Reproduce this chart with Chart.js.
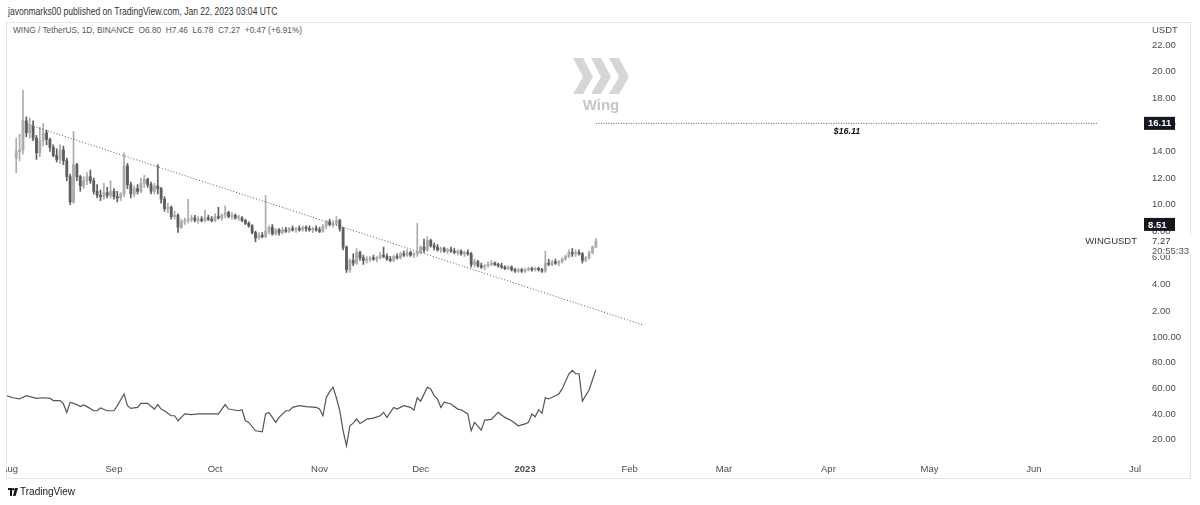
<!DOCTYPE html>
<html>
<head>
<meta charset="utf-8">
<title>WINGUSDT</title>
<script src="https://cdn.jsdelivr.net/npm/chart.js@4.4.1/dist/chart.umd.min.js"></script>
<style>
  html, body { margin: 0; padding: 0; background: #fff; }
  body { width: 1200px; height: 505px; position: relative; overflow: hidden;
         font-family: "Liberation Sans", Arial, sans-serif; }
  #frame { position: absolute; left: 6px; top: 22px; width: 1185px; height: 457px;
           border: 1px solid #e4e4e4; box-sizing: border-box; }
  #pub { position: absolute; left: 8px; top: 5px; font-size: 10px; line-height: 13px; color: #333;
         white-space: pre; transform: scaleX(0.855); transform-origin: left center; }
  #legend { position: absolute; left: 13px; top: 24px; font-size: 9.5px; line-height: 12px; color: #555;
            white-space: pre; transform: scaleX(0.875); transform-origin: left center; }
  canvas { position: absolute; left: 0; }
  #price { top: 22px; }
  #rsi { top: 330px; }
  #mask { position: absolute; left: 0; top: 459px; width: 6px; height: 20px; background: #fff; }
  #footer { position: absolute; left: 8px; top: 486px; font-size: 10px; line-height: 12px; color: #131722; }
  #footer svg { vertical-align: -1px; margin-right: 2px; }
</style>
</head>
<body>
<div id="frame"></div>
<div id="pub">javonmarks00 published on TradingView.com, Jan 22, 2023 03:04 UTC</div>
<div id="legend">WING / TetherUS, 1D, BINANCE  O6.80  H7.46  L6.78  C7.27  +0.47 (+6.91%)</div>
<canvas id="price" width="1200" height="306"></canvas>
<canvas id="rsi" width="1200" height="150"></canvas>
<div id="mask"></div>
<div id="footer"><svg width="10" height="8" viewBox="0 0 10 8"><path d="M0 0h4v8H2V2H0z" fill="#131722"/><circle cx="5.2" cy="1.3" r="1.2" fill="#131722"/><path d="M7 0h3L7.5 8H5z" fill="#131722"/></svg>TradingView</div>

<script>
// days counted from 1 Aug 2022; daily candles run 3 Aug 2022 .. 22 Jan 2023
const firstCandleDay = 2;

const opens = [
  13.5,14.0,14.1,16.3,15.4,15.9,15.0,13.9,14.8,15.4,
  14.9,14.3,13.7,13.4,14.1,13.3,12.1,10.2,13.0,12.1,
  11.4,11.8,12.1,11.8,11.0,10.7,10.6,10.9,10.7,11.0,
  10.6,10.5,10.8,12.9,11.5,10.8,11.2,11.0,11.6,11.9,
  11.5,11.0,11.4,11.2,10.4,9.7,9.8,9.1,9.2,8.3,
  8.7,8.8,8.9,9.0,8.8,8.9,8.8,9.0,8.9,8.8,
  9.1,9.0,9.2,9.4,9.1,9.2,9.0,9.0,8.8,8.6,
  8.4,7.9,7.5,7.7,7.6,8.0,8.3,7.8,8.1,7.9,
  8.1,8.0,8.2,8.1,8.2,8.1,8.3,8.2,8.1,8.2,
  8.1,8.0,8.4,8.7,8.5,8.6,8.8,8.2,6.8,5.1,
  5.8,5.6,6.4,6.0,5.8,5.9,6.0,5.9,6.0,6.2,
  6.1,5.9,5.8,6.1,6.0,6.3,6.2,6.4,6.2,6.3,
  6.4,6.8,6.6,7.3,6.9,6.8,6.6,6.7,6.5,6.6,
  6.5,6.4,6.5,6.3,6.4,6.3,5.5,5.7,5.4,5.3,
  5.4,5.5,5.6,5.5,5.4,5.3,5.2,5.3,5.1,5.0,
  5.1,5.0,5.1,5.2,5.1,5.2,5.1,5.0,5.6,5.5,
  5.7,5.6,5.7,5.9,6.1,6.4,6.3,6.4,6.3,5.8,
  6.0,6.4,6.80
];
const highs = [
  15.0,15.3,18.6,16.6,16.5,16.3,15.2,15.8,16.1,15.6,
  15.0,14.5,14.2,14.5,14.4,13.5,12.3,15.5,13.1,12.2,
  12.1,12.4,12.6,12.0,11.5,11.1,11.6,11.3,11.8,11.2,
  11.0,10.9,13.9,13.1,11.7,11.4,11.5,12.0,12.2,12.0,
  11.7,11.6,13.0,11.3,10.6,10.1,9.9,9.5,9.3,8.9,
  9.0,10.4,9.2,9.2,9.1,9.1,9.6,9.2,9.1,9.3,
  9.8,9.3,9.9,9.5,9.4,9.3,9.2,9.1,8.9,8.7,
  8.5,8.0,7.9,7.9,10.7,8.4,8.5,8.2,8.2,8.3,
  8.3,8.3,8.4,8.3,8.4,8.4,8.4,8.4,8.3,8.4,
  8.3,8.5,8.8,8.9,8.8,9.1,8.9,8.3,6.9,5.9,
  6.3,6.7,6.5,6.2,6.1,6.1,6.2,6.1,6.4,6.8,
  6.3,6.1,6.2,6.3,6.4,6.5,6.6,6.5,6.4,8.6,
  6.9,7.4,7.6,7.4,7.1,7.0,6.8,6.8,6.7,6.8,
  6.7,6.6,6.6,6.5,6.6,6.4,5.9,5.8,5.6,5.5,
  5.7,5.8,5.7,5.6,5.6,5.4,5.4,5.4,5.2,5.2,
  5.2,5.2,5.3,5.3,5.3,5.3,5.2,6.5,5.9,5.8,
  5.9,5.8,6.0,6.2,6.6,6.7,6.6,6.6,6.4,6.1,
  6.5,6.9,7.46
];
const lows = [
  12.4,13.3,13.8,15.1,15.0,14.8,13.4,13.6,14.4,14.5,
  14.0,13.6,13.2,13.1,13.0,11.8,10.0,10.1,11.8,11.0,
  11.2,11.5,11.6,10.8,10.5,10.3,10.4,10.5,10.5,10.4,
  10.2,10.3,10.6,11.2,10.5,10.6,10.8,10.9,11.3,11.3,
  10.8,10.8,10.8,10.1,9.5,9.4,8.9,8.9,7.9,8.2,
  8.5,8.6,8.7,8.7,8.6,8.7,8.7,8.8,8.7,8.7,
  8.9,8.8,9.0,9.0,8.9,8.9,8.8,8.7,8.5,8.3,
  7.8,7.2,7.4,7.5,7.5,7.8,7.7,7.7,7.7,7.8,
  7.9,7.9,8.0,7.9,8.0,8.0,8.0,8.0,7.9,8.0,
  7.9,7.9,8.2,8.4,8.3,8.4,8.0,6.6,4.9,4.9,
  5.4,5.5,5.8,5.5,5.6,5.7,5.8,5.7,5.9,6.0,
  5.8,5.7,5.7,5.9,5.9,6.1,6.1,6.1,6.0,6.1,
  6.3,6.4,6.5,6.8,6.6,6.5,6.4,6.4,6.3,6.4,
  6.3,6.2,6.2,6.1,6.2,5.3,5.3,5.3,5.2,5.1,
  5.3,5.4,5.4,5.3,5.2,5.1,5.1,5.0,4.9,4.9,
  4.9,4.9,5.0,5.0,5.0,5.0,4.9,4.9,5.4,5.4,
  5.5,5.4,5.6,5.8,6.0,6.1,6.1,6.2,5.6,5.7,
  5.9,6.3,6.78
];
const closes = [
  14.0,14.1,16.3,15.4,15.9,15.0,13.9,14.8,15.4,14.9,
  14.3,13.7,13.4,14.1,13.3,12.1,10.2,13.0,12.1,11.4,
  11.8,12.1,11.8,11.0,10.7,10.6,10.9,10.7,11.0,10.6,
  10.5,10.8,12.9,11.5,10.8,11.2,11.0,11.6,11.9,11.5,
  11.0,11.4,11.2,10.4,9.7,9.8,9.1,9.2,8.3,8.7,
  8.8,8.9,9.0,8.8,8.9,8.8,9.0,8.9,8.8,9.1,
  9.0,9.2,9.4,9.1,9.2,9.0,9.0,8.8,8.6,8.4,
  7.9,7.5,7.7,7.6,8.0,8.3,7.8,8.1,7.9,8.1,
  8.0,8.2,8.1,8.2,8.1,8.3,8.2,8.1,8.2,8.1,
  8.0,8.4,8.7,8.5,8.6,8.8,8.2,6.8,5.1,5.8,
  5.6,6.4,6.0,5.8,5.9,6.0,5.9,6.0,6.2,6.1,
  5.9,5.8,6.1,6.0,6.3,6.2,6.4,6.2,6.3,6.4,
  6.8,6.6,7.3,6.9,6.8,6.6,6.7,6.5,6.6,6.5,
  6.4,6.5,6.3,6.4,6.3,5.5,5.7,5.4,5.3,5.4,
  5.5,5.6,5.5,5.4,5.3,5.2,5.3,5.1,5.0,5.1,
  5.0,5.1,5.2,5.1,5.2,5.1,5.0,5.6,5.5,5.7,
  5.6,5.7,5.9,6.1,6.4,6.3,6.4,6.3,5.8,6.0,
  6.4,6.8,7.27
];

// RSI pane
const rsiDays = [
  -1,1,3,5,8,10,12,13,15,16,17,18,20,21,22,23,25,26,27,29,
  31,32,34,35,36,38,39,41,43,44,45,46,48,49,50,52,54,56,58,60,
  62,64,65,68,69,70,71,73,75,76,77,79,80,82,83,84,86,88,91,92,
  93,94,95,96,97,98,99,100,101,102,103,104,105,106,108,110,111,112,114,115,
  117,119,120,121,122,124,125,126,127,128,129,131,133,134,136,137,138,140,141,143,
  145,147,149,151,153,154,155,156,157,158,159,160,163,164,166,167,168,169,170,172,
  174
];
const rsiValues = [
  54.5,52.8,51.9,54.5,52.4,52.8,52.4,50.6,50.6,48.0,41.4,49.3,47.5,45.9,47.2,45.9,42.7,42.7,44.8,42.7,
  42.7,46.7,55.8,46.7,44.5,45.3,48.5,48.5,44.0,47.5,44.0,42.7,38.8,38.8,34.9,40.2,39.6,40.2,40.2,40.2,
  40.2,47.5,44.0,42.7,43.5,34.9,33.6,27.1,26.3,40.2,41.4,33.6,37.5,42.7,42.7,45.3,46.7,45.9,45.3,44.0,
  38.8,52.8,57.6,61.0,52.8,42.7,27.1,15.3,31.0,33.0,36.2,32.8,34.4,36.2,37.0,38.8,41.4,37.5,45.3,44.0,
  46.7,45.3,43.1,52.8,50.2,61.0,59.7,54.5,51.9,45.3,49.3,48.0,44.0,43.5,40.2,27.1,33.6,27.6,35.4,35.9,
  41.4,37.5,34.9,31.0,32.5,33.6,40.2,38.0,43.5,40.7,52.8,51.9,55.8,59.7,71.5,74.1,71.5,71.5,50.2,59.0,
  74.6
];

// drawn objects
const trendDays = [4.6, 188];
const trendPrices = [16.1, 0.95];
const levelDays = [174, 323];
const levelPrice = 16.11;
const markPrice = 8.51;

// axis ticks
const priceTicks = [2, 4, 6, 8, 10, 12, 14, 16, 18, 20, 22];
const rsiTicks = [20, 40, 60, 80, 100];
const monthDays = [0, 31, 61, 92, 122, 153, 184, 212, 243, 273, 304, 334];
const monthLabels = ['Aug', 'Sep', 'Oct', 'Nov', 'Dec', '2023', 'Feb', 'Mar', 'Apr', 'May', 'Jun', 'Jul'];

const FONT = '"Liberation Sans", Arial, sans-serif';
const TXT = '#4a4a4a';
const upColor = '#ababab';
const downColor = '#5e5e5e';
const xMin = -0.74, xMax = 335.46;

const candleDays = opens.map((o, i) => firstCandleDay + i);
const candleColors = opens.map((o, i) => closes[i] >= o ? upColor : downColor);
const lastClose = closes[closes.length - 1];

function fixAxis(w, h) {
  return function (s) {
    if (w) s.width = w;
    if (h) s.height = h;
    s.paddingLeft = 0; s.paddingRight = 0; s.paddingTop = 0; s.paddingBottom = 0;
  };
}

const priceOverlay = {
  id: 'priceOverlay',
  beforeDatasetsDraw(chart) {
    const c = chart.ctx;
    c.save();
    // Wing watermark
    c.fillStyle = '#d6d6d6';
    [573, 591, 609].forEach(x0 => {
      c.beginPath();
      c.moveTo(x0, 36); c.lineTo(x0 + 10, 36); c.lineTo(x0 + 20, 55);
      c.lineTo(x0 + 10, 72); c.lineTo(x0, 72); c.lineTo(x0 + 10, 55);
      c.closePath(); c.fill();
    });
    c.fillStyle = '#c6c6c6';
    c.font = 'bold 15px ' + FONT;
    c.textAlign = 'center'; c.textBaseline = 'middle';
    c.fillText('Wing', 601, 84);
    c.restore();
  },
  afterDraw(chart) {
    const c = chart.ctx, y = chart.scales.y, x = chart.scales.x;
    c.save();
    c.textBaseline = 'middle';
    c.textAlign = 'left';
    c.font = '9.5px ' + FONT;
    c.fillStyle = TXT;
    c.fillText('USDT', 1152, 8);

    const ly = y.getPixelForValue(lastClose);
    c.fillStyle = '#fff';
    c.fillRect(1146, ly - 5, 46, 19);
    c.fillStyle = '#333';
    c.font = '9.5px ' + FONT;
    c.fillText(lastClose.toFixed(2), 1152, ly);
    c.fillStyle = '#555';
    c.fillText('20:55:33', 1152, ly + 10);
    c.textAlign = 'right';
    c.fillStyle = '#333';
    c.fillText('WINGUSDT', 1137, ly);

    c.textAlign = 'left';
    [levelPrice, markPrice].forEach(v => {
      const py = y.getPixelForValue(v);
      c.fillStyle = '#131722';
      c.fillRect(1144, py - 6.5, 31, 13);
      c.fillStyle = '#fff';
      c.font = 'bold 9.5px ' + FONT;
      c.fillText(v.toFixed(2), 1148, py + 0.5);
    });

    const mx = x.getPixelForValue((levelDays[0] + levelDays[1]) / 2);
    c.textAlign = 'center';
    c.fillStyle = '#111';
    c.font = 'italic bold 9px ' + FONT;
    c.fillText('$' + levelPrice.toFixed(2), mx, y.getPixelForValue(levelPrice) + 8);
    c.restore();
  }
};

new Chart(document.getElementById('price'), {
  type: 'bar',
  data: {
    datasets: [
      {
        label: 'wicks',
        data: candleDays.map((d, i) => ({ x: d, y: [lows[i], highs[i]] })),
        backgroundColor: candleColors,
        barThickness: 1,
        grouped: false,
        order: 3
      },
      {
        label: 'bodies',
        data: candleDays.map((d, i) => ({ x: d, y: [opens[i], closes[i]] })),
        backgroundColor: candleColors,
        barThickness: 2.2,
        minBarLength: 1,
        grouped: false,
        order: 2
      },
      {
        type: 'line',
        label: 'trend',
        data: trendDays.map((d, i) => ({ x: d, y: trendPrices[i] })),
        borderColor: '#555',
        borderWidth: 1,
        borderDash: [1, 2],
        pointRadius: 0,
        order: 1
      },
      {
        type: 'line',
        label: 'level',
        data: levelDays.map(d => ({ x: d, y: levelPrice })),
        borderColor: '#5a5a5a',
        borderWidth: 1,
        borderDash: [1, 1.5],
        pointRadius: 0,
        order: 1
      }
    ]
  },
  options: {
    responsive: false,
    animation: false,
    layout: { padding: { left: 7, top: 16, right: 0, bottom: 0 } },
    plugins: { legend: { display: false }, tooltip: { enabled: false } },
    scales: {
      x: { type: 'linear', min: xMin, max: xMax, offset: false, display: false },
      y: {
        position: 'right', min: 0.72, max: 22.53,
        grid: { display: false, drawTicks: false }, border: { display: false },
        afterFit: fixAxis(60, 0),
        afterBuildTicks(s) { s.ticks = priceTicks.map(v => ({ value: v })); },
        ticks: { padding: 12, color: TXT, font: { family: FONT, size: 9.5 }, callback: v => v.toFixed(2) }
      }
    }
  },
  plugins: [priceOverlay]
});

new Chart(document.getElementById('rsi'), {
  type: 'line',
  data: {
    datasets: [{
      label: 'RSI',
      data: rsiDays.map((d, i) => ({ x: d, y: rsiValues[i] })),
      borderColor: '#555',
      borderWidth: 1.2,
      pointRadius: 0,
      tension: 0
    }]
  },
  options: {
    responsive: false,
    animation: false,
    layout: { padding: { left: 7, top: 0, right: 0, bottom: 0 } },
    plugins: { legend: { display: false }, tooltip: { enabled: false } },
    scales: {
      x: {
        type: 'linear', min: xMin, max: xMax, offset: false,
        grid: { display: false, drawTicks: false }, border: { display: false },
        afterFit: fixAxis(0, 21),
        afterBuildTicks(s) { s.ticks = monthDays.map(v => ({ value: v })); },
        ticks: {
          padding: 5, autoSkip: false, maxRotation: 0, color: TXT,
          font: ctx => ({ family: FONT, size: 9.5, weight: ctx.index === 5 ? 'bold' : 'normal' }),
          callback: (v, i) => monthLabels[i]
        }
      },
      y: {
        position: 'right', min: 5.1, max: 105.6,
        grid: { display: false, drawTicks: false }, border: { display: false },
        afterFit: fixAxis(60, 0),
        afterBuildTicks(s) { s.ticks = rsiTicks.map(v => ({ value: v })); },
        ticks: { padding: 12, color: TXT, font: { family: FONT, size: 9.5 }, callback: v => v.toFixed(2) }
      }
    }
  }
});
</script>
</body>
</html>
